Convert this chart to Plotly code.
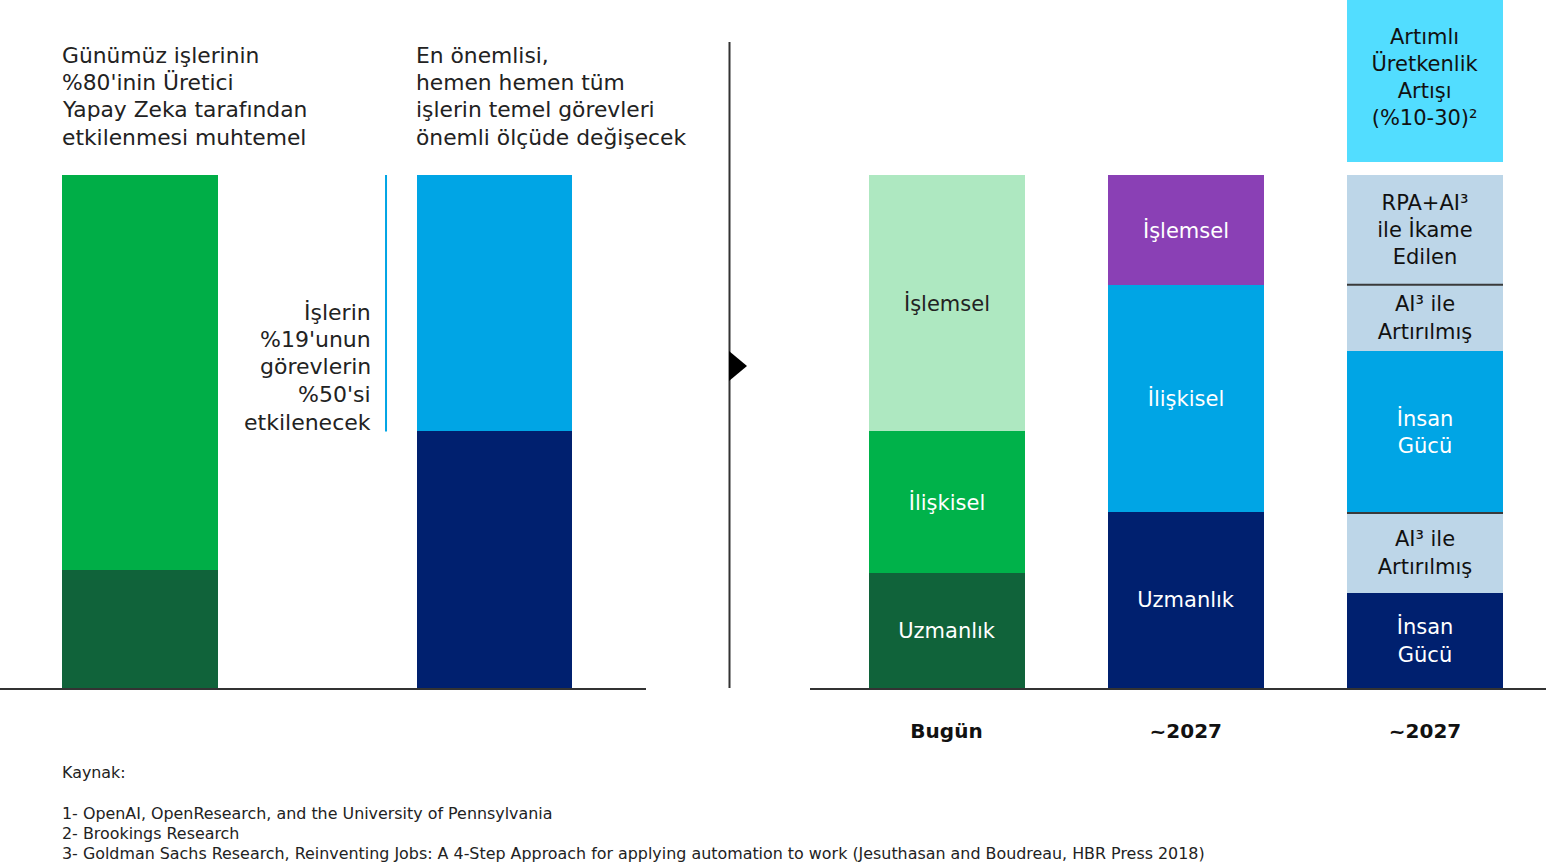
import plotly.graph_objects as go

# ---------------- data ----------------
left_cats = ["Tüm işler", "Temel görevler"]
left_bottom = [23.0, 50.0]
left_top = [77.0, 50.0]
left_bottom_colors = ["#10633A", "#00206F"]
left_top_colors = ["#00AE47", "#00A5E5"]

right_cats = ["Bugün", "~2027", "~2027 AI"]
right_ticktext = ["Bugün", "~2027", "~2027"]

bugun_labels = ["Uzmanlık", "İlişkisel", "İşlemsel"]
bugun_values = [22.4, 27.7, 49.9]
bugun_colors = ["#10633A", "#00B24A", "#AEE8C1"]
bugun_textcolors = ["white", "white", "#222222"]

y2027_labels = ["Uzmanlık", "İlişkisel", "İşlemsel"]
y2027_values = [34.3, 44.2, 21.5]
y2027_colors = ["#00206F", "#00A5E5", "#8A40B5"]
y2027_textcolors = ["white", "white", "white"]

ai_labels = ["İnsan<br>Gücü", "AI³ ile<br>Artırılmış", "İnsan<br>Gücü",
             "AI³ ile<br>Artırılmış", "RPA+AI³<br>ile İkame<br>Edilen", None,
             "Artımlı<br>Üretkenlik<br>Artışı<br>(%10-30)²"]
ai_values = [18.5, 15.6, 31.6, 12.9, 21.4, 2.5, 33.0]
ai_colors = ["#00206F", "#BDD6E8", "#00A5E5", "#BDD6E8", "#BDD6E8", "rgba(0,0,0,0)", "#52DDFF"]
ai_textcolors = ["white", "#111111", "white", "#111111", "#111111", "#111111", "#111111"]
ai_separator_index = [2, 4]  # separator lines below these segments

headline_left = ["Günümüz işlerinin", "%80'inin Üretici", "Yapay Zeka tarafından", "etkilenmesi muhtemel"]
headline_right = ["En önemlisi,", "hemen hemen tüm", "işlerin temel görevleri", "önemli ölçüde değişecek"]
side_note = ["İşlerin", "%19'unun", "görevlerin", "%50'si", "etkilenecek"]
footnotes = ["1- OpenAI, OpenResearch, and the University of Pennsylvania",
             "2- Brookings Research",
             "3- Goldman Sachs Research, Reinventing Jobs: A 4-Step Approach for applying automation to work "
             "(Jesuthasan and Boudreau, HBR Press 2018)"]

FONT = "DejaVu Sans"
W, H = 1546, 863
PLOT_H = 688
Y_MAX = 134.1

fig = go.Figure()

# left panel
fig.add_trace(go.Bar(x=left_cats, y=left_bottom, marker=dict(color=left_bottom_colors, line=dict(width=0)),
                     width=0.44, xaxis="x", yaxis="y", hoverinfo="skip"))
fig.add_trace(go.Bar(x=left_cats, y=left_top, marker=dict(color=left_top_colors, line=dict(width=0)),
                     width=0.44, xaxis="x", yaxis="y", hoverinfo="skip"))

def add_stack(cat, labels, values, colors, tcolors):
    for lab, v, c, tc in zip(labels, values, colors, tcolors):
        kw = {}
        if lab:
            kw = dict(text=[lab], textposition="inside", insidetextanchor="middle", textangle=0,
                      textfont=dict(color=tc, size=21, family=FONT), constraintext="none")
        fig.add_trace(go.Bar(x=[cat], y=[v], marker=dict(color=c, line=dict(width=0)),
                             width=0.652, xaxis="x2", yaxis="y", hoverinfo="skip", **kw))

add_stack(right_cats[0], bugun_labels, bugun_values, bugun_colors, bugun_textcolors)
add_stack(right_cats[1], y2027_labels, y2027_values, y2027_colors, y2027_textcolors)
add_stack(right_cats[2], ai_labels, ai_values, ai_colors, ai_textcolors)

shapes = []
for idx in ai_separator_index:
    yv = sum(ai_values[:idx])
    shapes.append(dict(type="line", xref="x2", yref="y", x0=2 - 0.326, x1=2 + 0.326,
                       y0=yv, y1=yv, line=dict(color="#3a3a3a", width=2)))

# blue bracket line next to left second bar
shapes.append(dict(type="line", xref="x", yref="y", x0=0.694, x1=0.694,
                   y0=left_bottom[1], y1=left_bottom[1] + left_top[1],
                   line=dict(color="#00A5E5", width=2)))

def px_x(p):
    return p / W
def px_y(p):
    return (PLOT_H - p) / PLOT_H

# vertical divider and triangle
shapes.append(dict(type="line", xref="paper", yref="paper", x0=px_x(729.5), x1=px_x(729.5),
                   y0=0, y1=px_y(42), line=dict(color="#333333", width=2)))
shapes.append(dict(type="path", xref="paper", yref="paper",
                   path=f"M {px_x(729)} {px_y(351)} L {px_x(747)} {px_y(366)} L {px_x(729)} {px_y(381)} Z",
                   fillcolor="#000000", line=dict(width=0)))

annotations = []
def txt(x, y, s, size=21.8, anchor="left", color="#222222"):
    annotations.append(dict(xref="paper", yref="paper", x=px_x(x), y=px_y(y),
                            text=s, showarrow=False, xanchor=anchor, yanchor="middle", align=anchor,
                            borderpad=0, borderwidth=0,
                            font=dict(family=FONT, size=size, color=color)))

for i, line in enumerate(headline_left):
    txt(62, 55 + 27.4 * i, line)
for i, line in enumerate(headline_right):
    txt(416, 55 + 27.4 * i, line)
for i, line in enumerate(side_note):
    txt(371, 312 + 27.5 * i, line, size=22, anchor="right")

txt(62, 773, "Kaynak:", size=15.9)
for i, line in enumerate(footnotes):
    txt(62, 813 + 20 * i, line, size=15.9)

c0, c1 = 140.0, 494.5
s_l = c1 - c0
s_r = (1425 - 946.5) / 2

fig.update_layout(
    width=W, height=H,
    margin=dict(l=0, r=0, t=0, b=H - PLOT_H, pad=0),
    paper_bgcolor="white", plot_bgcolor="white",
    barmode="stack", bargap=0, showlegend=False,
    font=dict(family=FONT, color="#222222"),
    uniformtext=dict(minsize=20, mode="show"),
    xaxis=dict(domain=[0, 646 / W], range=[(0 - c0) / s_l, (646 - c0) / s_l],
               showticklabels=False, ticks="", showgrid=False, zeroline=False,
               showline=True, linecolor="#333333", linewidth=2, fixedrange=True),
    xaxis2=dict(domain=[810 / W, 1], range=[(810 - 946.5) / s_r, (1546 - 946.5) / s_r],
                anchor="y", tickvals=right_cats, ticktext=[f"<b>{t}</b>" for t in right_ticktext],
                ticks="", ticklabelstandoff=24, tickfont=dict(family=FONT, size=20, color="#111111"),
                showgrid=False, zeroline=False,
                showline=True, linecolor="#333333", linewidth=2, fixedrange=True),
    yaxis=dict(range=[0, Y_MAX], showticklabels=False, showgrid=False, zeroline=False,
               showline=False, fixedrange=True),
    shapes=shapes, annotations=annotations,
)

fig.write_html("out.html", config={"displayModeBar": False},
               post_script="document.body.style.margin='0';document.body.style.overflow='hidden';")
